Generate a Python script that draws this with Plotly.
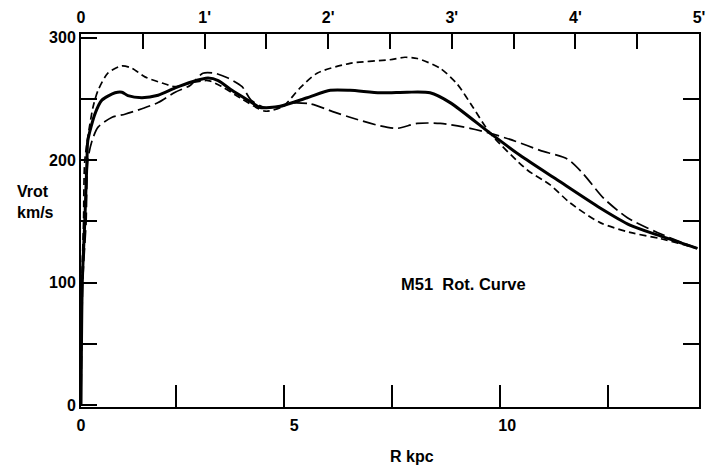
import plotly.graph_objects as go

# ---- data (R in kpc, Vrot in km/s) ----
R_mean = [0, 0.03, 0.09, 0.14, 0.16, 0.33, 0.49, 0.80, 0.96, 1.10, 1.43, 1.81, 2.21, 2.61, 2.98, 3.22, 3.54,
          4.01, 4.20, 4.67, 5.31, 5.85, 6.31, 7.02, 7.65, 8.19, 8.66, 9.60, 10.30, 11.17, 12.18, 12.88, 13.52, 14.46]
V_mean = [0, 100, 151, 200, 216, 238, 249, 255, 255.5, 252.7, 251, 253, 259, 264, 267, 265, 257,
          247, 243, 244, 251, 257, 257, 255, 255.5, 255, 247, 222, 204, 184, 161, 147, 139, 128]

R_short = [0, 0.02, 0.06, 0.09, 0.28, 0.40, 0.63, 0.96, 1.20, 1.50, 1.90, 2.21, 2.56, 2.98, 3.31, 3.73, 4.32,
           4.74, 5.14, 5.54, 6.31, 7.25, 7.60, 7.89, 8.43, 8.83, 9.20, 9.60, 10.47, 11.00, 11.48, 12.18, 12.88,
           13.59, 14.46]
V_short = [0, 100, 150, 200, 243, 257, 271, 277, 275, 268, 263, 260, 263, 265, 260, 251, 240,
           244, 259, 271, 279, 282, 284, 283, 275, 262, 243, 222, 192, 180, 165, 149, 141,
           136, 128]

R_long = [0, 0.04, 0.12, 0.16, 0.26, 0.40, 0.73, 1.03, 1.43, 1.81, 2.21, 2.56, 2.86, 3.14, 3.45, 3.78, 3.99,
          4.32, 4.74, 4.91, 5.38, 5.96, 6.31, 7.02, 7.42, 7.89, 8.43, 9.13, 9.60, 10.19, 10.77, 11.41, 11.78,
          12.26, 12.82, 13.52, 14.46]
V_long = [0, 100, 150, 200, 216, 227, 235, 237.5, 242, 247, 255.5, 261, 271, 271, 267, 260, 249,
          243, 244, 246.5, 246, 239, 235, 228, 226, 230, 230, 226, 222, 215.5, 208, 201, 189,
          169, 153, 141, 128]

kpc_tick_marks = [2.23, 4.77, 7.30, 9.83, 12.37]
kpc_labels = [0, 5, 10]
v_major = [0, 100, 200, 300]
v_minor = [50, 150, 250]
v_right = [50, 100, 150, 200, 250]
arcmin_vals = [0, 1, 2, 3, 4, 5]
arcmin_text = ["0", "1'", "2'", "3'", "4'", "5'"]
arcmin_minor = [0.5, 1.5, 2.5, 3.5, 4.5]

FONT = dict(family="Liberation Sans, Arial, sans-serif", size=16, color="black", weight="bold")
FONT_NOTE = dict(FONT, size=16.5)

fig = go.Figure()
fig.add_trace(go.Scatter(x=R_short, y=V_short, mode="lines", line=dict(color="black", width=1.7, dash="7px,4px",
                                                                        shape="spline", smoothing=0.7),
                         showlegend=False, hoverinfo="skip"))
fig.add_trace(go.Scatter(x=R_long, y=V_long, mode="lines", line=dict(color="black", width=1.7, dash="13px,5px",
                                                                      shape="spline", smoothing=0.7),
                         showlegend=False, hoverinfo="skip"))
fig.add_trace(go.Scatter(x=R_mean, y=V_mean, mode="lines", line=dict(color="black", width=3,
                                                                      shape="spline", smoothing=0.7),
                         showlegend=False, hoverinfo="skip"))
# dummy trace to activate top/right axes
fig.add_trace(go.Scatter(x=[], y=[], xaxis="x2", yaxis="y2", showlegend=False, hoverinfo="skip"))

YR = [-1.5, 303]
fig.update_layout(
    width=711, height=468,
    margin=dict(l=81, r=12, t=34, b=61, autoexpand=False),
    paper_bgcolor="white", plot_bgcolor="white",
    font=FONT,
    xaxis=dict(range=[0, 14.5], showgrid=False, zeroline=False, showline=True, linecolor="black", linewidth=2,
               automargin=False, ticklabelstandoff=3,
               tickvals=kpc_labels, ticktext=[str(v) for v in kpc_labels], ticks="inside", ticklen=1,
               tickcolor="rgba(0,0,0,0)", tickfont=FONT,
               minor=dict(tickvals=kpc_tick_marks, ticks="inside", ticklen=22, tickwidth=1.5, tickcolor="black",
                          showgrid=False)),
    yaxis=dict(range=YR, showgrid=False, zeroline=False, showline=True, linecolor="black", linewidth=2,
               automargin=False,
               tickvals=v_major, ticks="inside", ticklen=16, tickwidth=1.5, tickcolor="black", tickfont=FONT,
               minor=dict(tickvals=v_minor, ticks="inside", ticklen=16, tickwidth=1.5, tickcolor="black",
                          showgrid=False)),
    xaxis2=dict(range=[0, 5], overlaying="x", side="top", showgrid=False, zeroline=False, showline=True,
                automargin=False, ticklabelstandoff=3,
                linecolor="black", linewidth=2, tickvals=arcmin_vals, ticktext=arcmin_text, ticks="inside",
                ticklen=15, tickwidth=1.5, tickcolor="black", tickfont=FONT,
                minor=dict(tickvals=arcmin_minor, ticks="inside", ticklen=15, tickwidth=1.5, tickcolor="black",
                           showgrid=False)),
    yaxis2=dict(range=YR, overlaying="y", side="right", showgrid=False, zeroline=False, showline=True,
                automargin=False,
                linecolor="black", linewidth=2, tickvals=v_right, ticks="inside", ticklen=16, tickwidth=1.5,
                tickcolor="black", showticklabels=False),
    annotations=[
        dict(text="Vrot<br>km/s", xref="paper", yref="paper", x=-0.107, y=0.55, xanchor="left", yanchor="middle",
             align="left", showarrow=False, font=FONT),
        dict(text="R kpc", xref="paper", yref="paper", x=0.536, y=-0.134, xanchor="center", yanchor="middle",
             showarrow=False, font=FONT),
        dict(text="M51&nbsp;&nbsp;Rot. Curve", xref="x", yref="y", x=7.45, y=99, xanchor="left", yanchor="middle",
             showarrow=False, font=FONT_NOTE),
    ],
)

fig.write_html("out.html", config={"displayModeBar": False},
               post_script="document.body.style.margin='0';document.body.style.overflow='hidden';")
